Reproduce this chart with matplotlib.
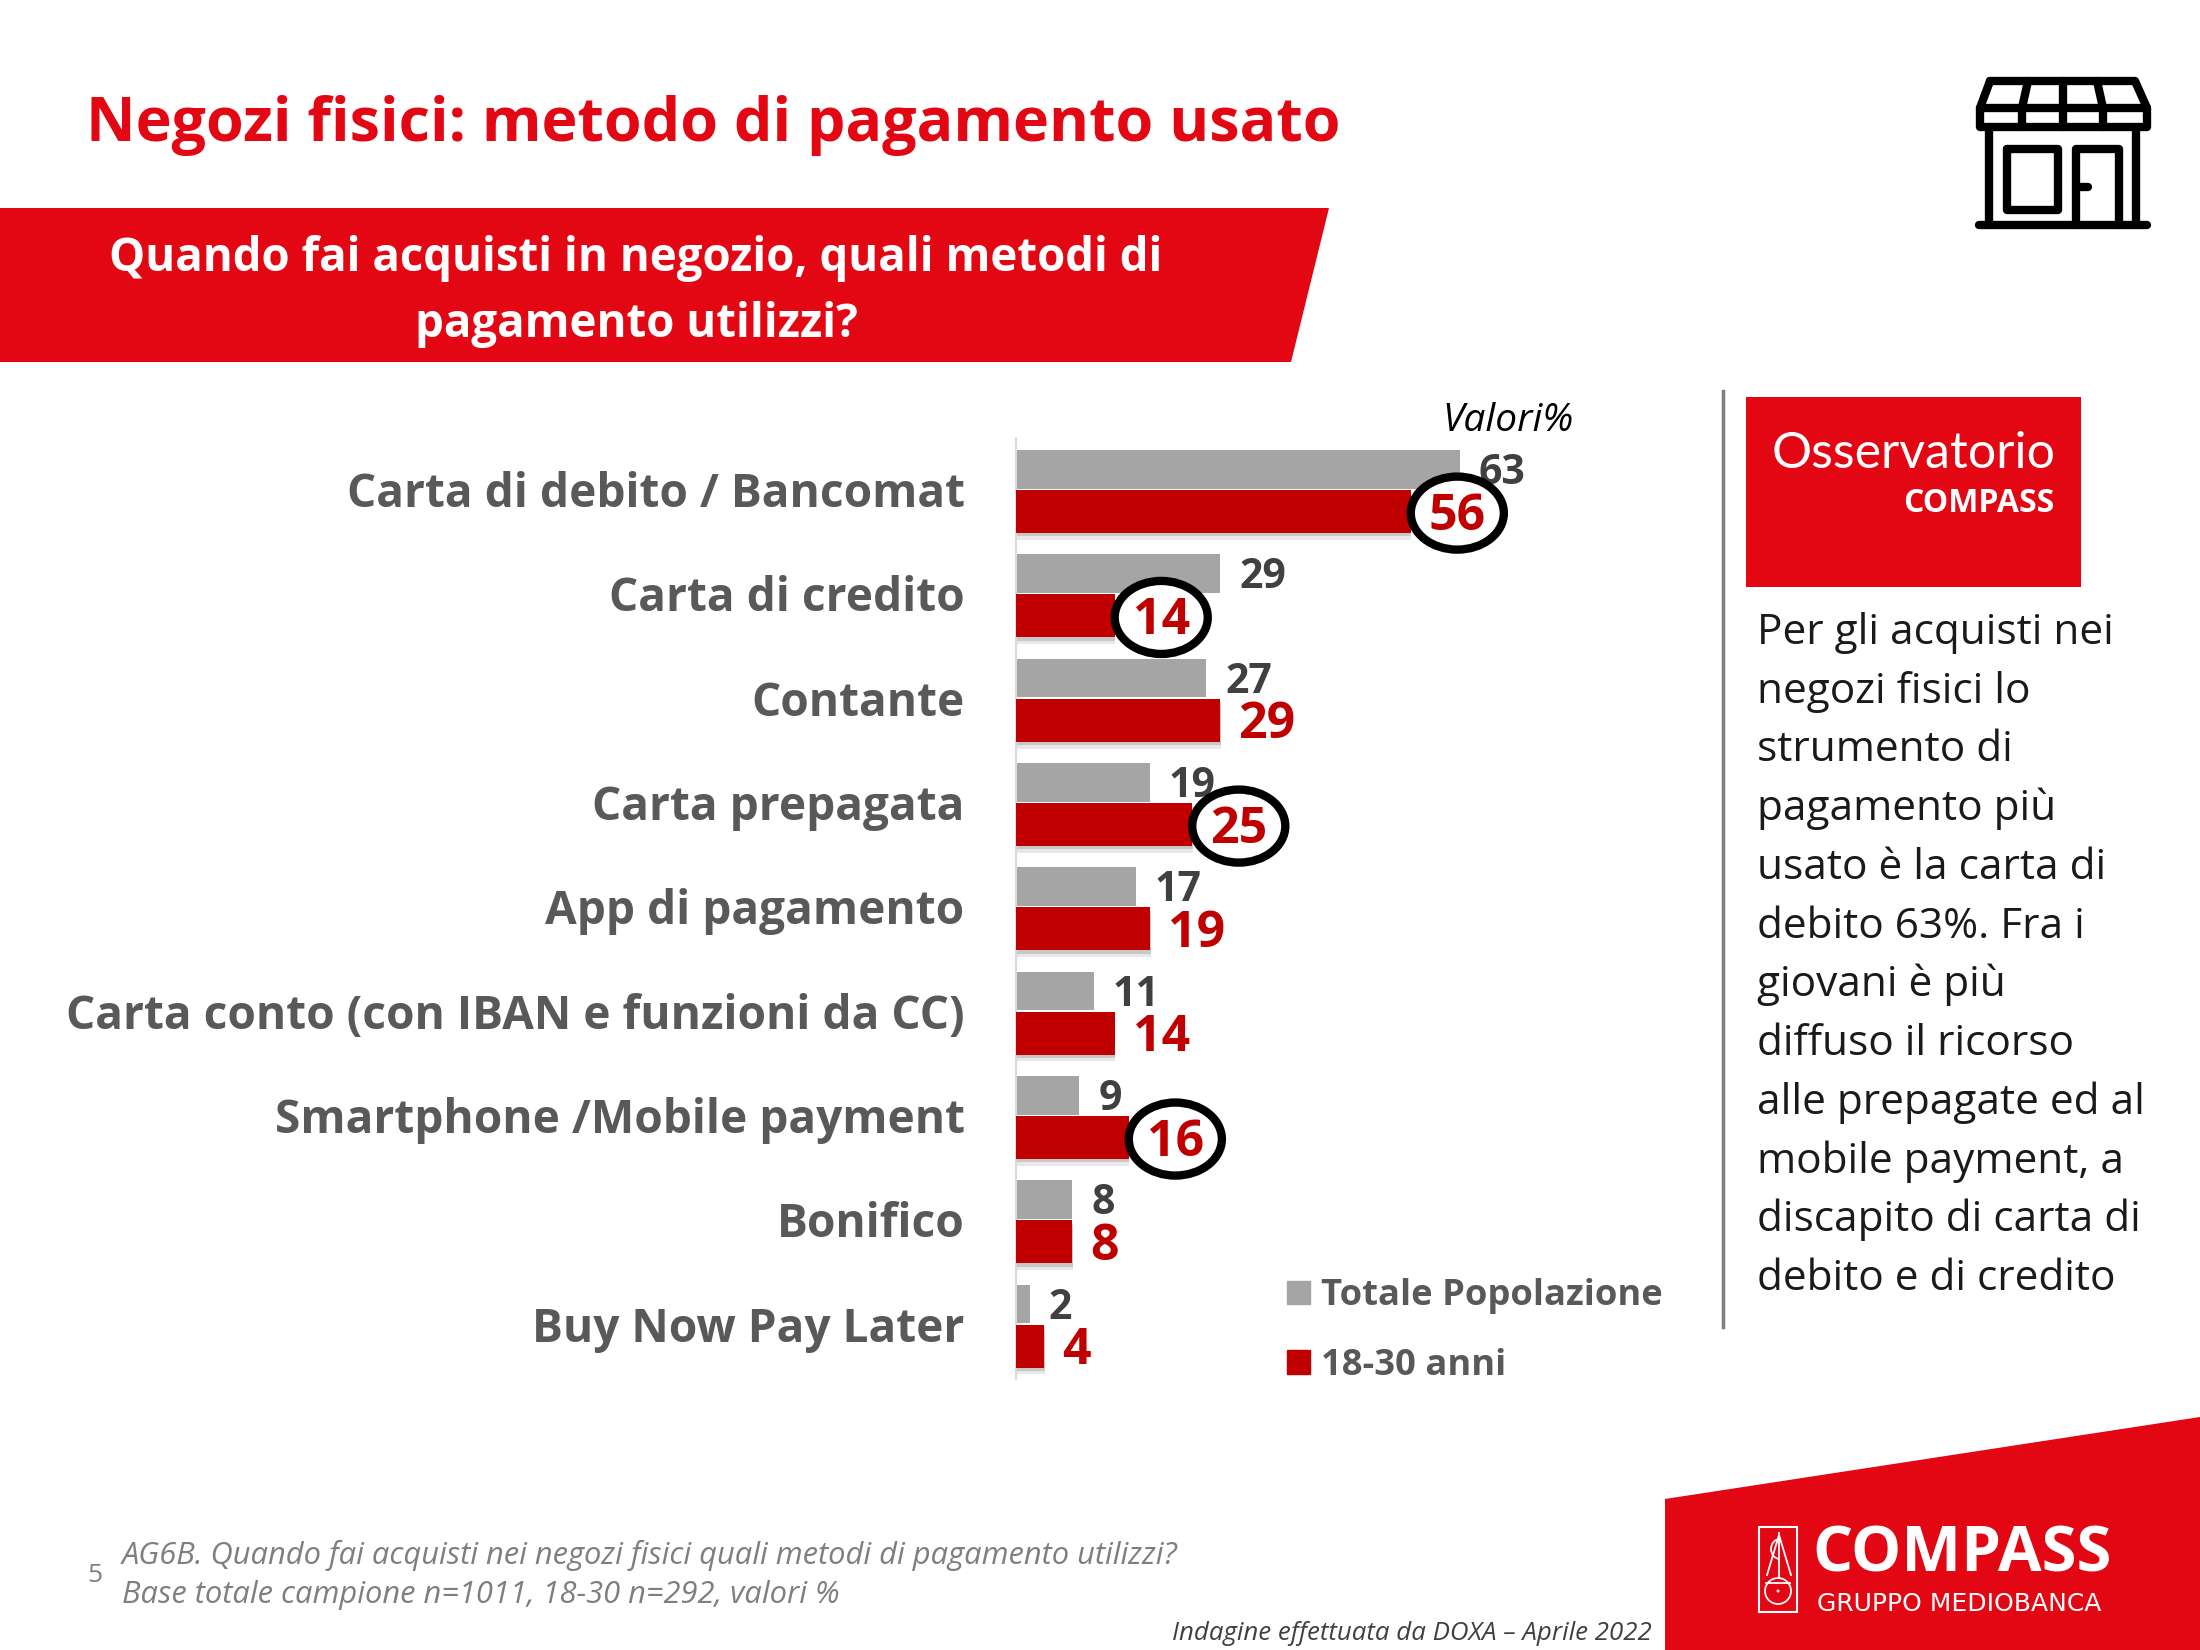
import matplotlib
matplotlib.use("Agg")
import matplotlib.pyplot as plt
import matplotlib.patheffects as pe
from matplotlib.patches import Polygon, Rectangle, Ellipse, Circle, Arc, Patch

plt.rcParams['font.family'] = ['Open Sans', 'DejaVu Sans']

# Dati
categorie = ["Carta di debito / Bancomat", "Carta di credito", "Contante", "Carta prepagata",
             "App di pagamento", "Carta conto (con IBAN e funzioni da CC)",
             "Smartphone /Mobile payment", "Bonifico", "Buy Now Pay Later"]
totale = [63, 29, 27, 19, 17, 11, 9, 8, 2]
giovani = [56, 14, 29, 25, 19, 14, 16, 8, 4]
cerchiati = ["Carta di debito / Bancomat", "Carta di credito", "Carta prepagata",
             "Smartphone /Mobile payment"]
serie = ["Totale Popolazione", "18-30 anni"]
commento = ["Per gli acquisti nei", "negozi fisici lo", "strumento di", "pagamento più",
            "usato è la carta di", "debito 63%. Fra i", "giovani è più", "diffuso il ricorso",
            "alle prepagate ed al", "mobile payment, a", "discapito di carta di",
            "debito e di credito"]

ROSSO = "#E30613"
ROSSO_BAR = "#C00000"
GRIGIO_BAR = "#A5A5A5"
GRIGIO_TXT = "#595959"
W, H = 2200, 1650

fig = plt.figure(figsize=(22, 16.5), dpi=100)

# Tela in pixel per la parte grafica della slide
bg = fig.add_axes([0, 0, 1, 1])
bg.set_xlim(0, W)
bg.set_ylim(H, 0)
bg.axis("off")

bg.text(86, 126, "Negozi fisici: metodo di pagamento usato", color=ROSSO, fontsize=43.8,
        fontweight="bold", va="center", ha="left")

bg.add_patch(Polygon([(0, 208), (1329, 208), (1291, 362), (0, 362)], color=ROSSO, lw=0))
bg.text(636, 258, "Quando fai acquisti in negozio, quali metodi di", color="white",
        fontsize=32.9, fontweight="bold", va="center", ha="center")
bg.text(636, 325, "pagamento utilizzi?", color="white", fontsize=32.9, fontweight="bold",
        va="center", ha="center")

# Icona negozio
icona = [
    [(1990, 81), (2135, 81), (2147, 108), (2147, 127), (1980, 127), (1980, 108), (1990, 81)],
    [(1980, 108), (2147, 108)],
    [(2028, 81), (2022, 108), (2022, 127)],
    [(2063, 81), (2063, 127)],
    [(2097, 81), (2103, 108), (2103, 127)],
    [(1989, 127), (1989, 225)],
    [(2136, 127), (2136, 225)],
    [(1979, 225), (2147, 225)],
    [(2007, 149), (2058, 149), (2058, 210), (2007, 210), (2007, 149)],
    [(2076, 225), (2076, 149), (2119, 149), (2119, 225)],
    [(2076, 187), (2088, 187)],
]
for tratto in icona:
    bg.plot([p[0] for p in tratto], [p[1] for p in tratto], color="black", lw=6,
            solid_capstyle="round", solid_joinstyle="round")

# Riquadro a destra
bg.plot([1723, 1723], [391, 1327], color="#7F7F7F", lw=2.5)
bg.add_patch(Rectangle((1746, 397), 335, 190, color=ROSSO, lw=0))
bg.text(2056, 454, "Osservatorio", color="white", fontsize=36, family="Lato",
        va="center", ha="right")
bg.text(2054, 504, "COMPASS", color="white", fontsize=23, fontweight="bold",
        va="center", ha="right")
for i, riga in enumerate(commento):
    bg.text(1757, 633 + i * 58.7, riga, color="#1A1A1A", fontsize=30.5, va="center", ha="left")

bg.text(1574, 421, "Valori%", color="black", fontsize=28, style="italic", va="center", ha="right")

# Note a piè di pagina
bg.text(87, 1575, "5", color="#7F7F7F", fontsize=19, va="center", ha="left")
bg.text(122, 1555, "AG6B. Quando fai acquisti nei negozi fisici quali metodi di pagamento utilizzi?",
        color="#7F7F7F", fontsize=22.2, style="italic", va="center", ha="left")
bg.text(122, 1595, "Base totale campione n=1011, 18-30 n=292, valori %", color="#7F7F7F",
        fontsize=22.2, style="italic", va="center", ha="left")
bg.text(1652, 1634, "Indagine effettuata da DOXA – Aprile 2022", color="#404040", fontsize=18.6,
        style="italic", va="center", ha="right")

# Logo in basso
bg.add_patch(Polygon([(1665, 1499), (2200, 1417), (2200, 1650), (1665, 1650)], color=ROSSO, lw=0))
bg.add_patch(Rectangle((1759, 1527), 38, 85, fill=False, ec="white", lw=1.5))
bg.add_patch(Circle((1778, 1591), 13, fill=False, ec="white", lw=1.3))
bg.add_patch(Circle((1778, 1591), 1.5, color="white", lw=0))
bg.add_patch(Arc((1780, 1549), 18, 20, theta1=90, theta2=270, ec="white", lw=1.3))
bg.plot([1766, 1790], [1583, 1583], color="white", lw=1.3)
bg.plot([1767, 1779, 1791], [1575, 1535, 1575], color="white", lw=1.3)
bg.plot([1779, 1779], [1533, 1578], color="white", lw=1.3)
bg.text(1812, 1555, "COMPASS", color="white", fontsize=45.6, fontweight="bold", va="center", ha="left")
bg.text(1817, 1604, "GRUPPO MEDIOBANCA", color="white", fontsize=18, family="DejaVu Sans",
        va="center", ha="left")

# Grafico a barre: 7.05 px per punto percentuale, 104.3 px per categoria
x0, x1 = 1016, 1721
y0, y1 = 438, 1379
ax = fig.add_axes([x0 / W, 1 - y1 / H, (x1 - x0) / W, (y1 - y0) / H])
ax.patch.set_alpha(0)
ax.set_xlim(0, 100)
ax.set_ylim(8.53, -0.49)

pos = list(range(len(categorie)))
ax.barh([p - 0.19 for p in pos], totale, height=0.37, color=GRIGIO_BAR, zorder=2)
barre = ax.barh([p + 0.215 for p in pos], giovani, height=0.41, color=ROSSO_BAR, zorder=3)
for b in barre:
    b.set_path_effects([pe.withSimplePatchShadow(offset=(0.5, -5), shadow_rgbFace="#808080", alpha=0.18),
                        pe.withSimplePatchShadow(offset=(0.5, -2.5), shadow_rgbFace="#808080", alpha=0.3),
                        pe.Normal()])

for p, v in zip(pos, totale):
    ax.annotate(str(v), (v, p - 0.15), xytext=(13.5, 0), textcoords="offset points", color="#404040",
                fontsize=29.5, fontweight="bold", va="center", ha="left", zorder=4)

for p, cat, v in zip(pos, categorie, giovani):
    if cat in cerchiati:
        ax.add_patch(Ellipse((v + 6.6, p + 0.23), 13.2, 0.7, fc="white", ec="black", lw=6, zorder=5))
    ax.annotate(str(v), (v, p + 0.265), xytext=(13, 0), textcoords="offset points", color=ROSSO_BAR,
                fontsize=36, fontweight="bold", va="center", ha="left", zorder=6)

ax.set_yticks(pos)
ax.set_yticklabels(categorie, fontsize=33.1, fontweight="bold", color=GRIGIO_TXT)
ax.tick_params(axis="y", length=0, pad=37)
ax.set_xticks([])
for lato in ["top", "right", "bottom"]:
    ax.spines[lato].set_visible(False)
ax.spines["left"].set_color("#D9D9D9")
ax.spines["left"].set_linewidth(1.5)

maniglie = [Patch(color=GRIGIO_BAR), Patch(color=ROSSO_BAR)]
leg = ax.legend(maniglie, serie, loc="upper left", bbox_to_anchor=(0.385, 0.107), frameon=False,
                handlelength=0.62, handleheight=0.62, handletextpad=0.3, labelspacing=0.915,
                prop={"size": 26.2, "weight": "bold"}, labelcolor=GRIGIO_TXT, borderaxespad=0, borderpad=0)

fig.savefig("out.png", dpi=100)
